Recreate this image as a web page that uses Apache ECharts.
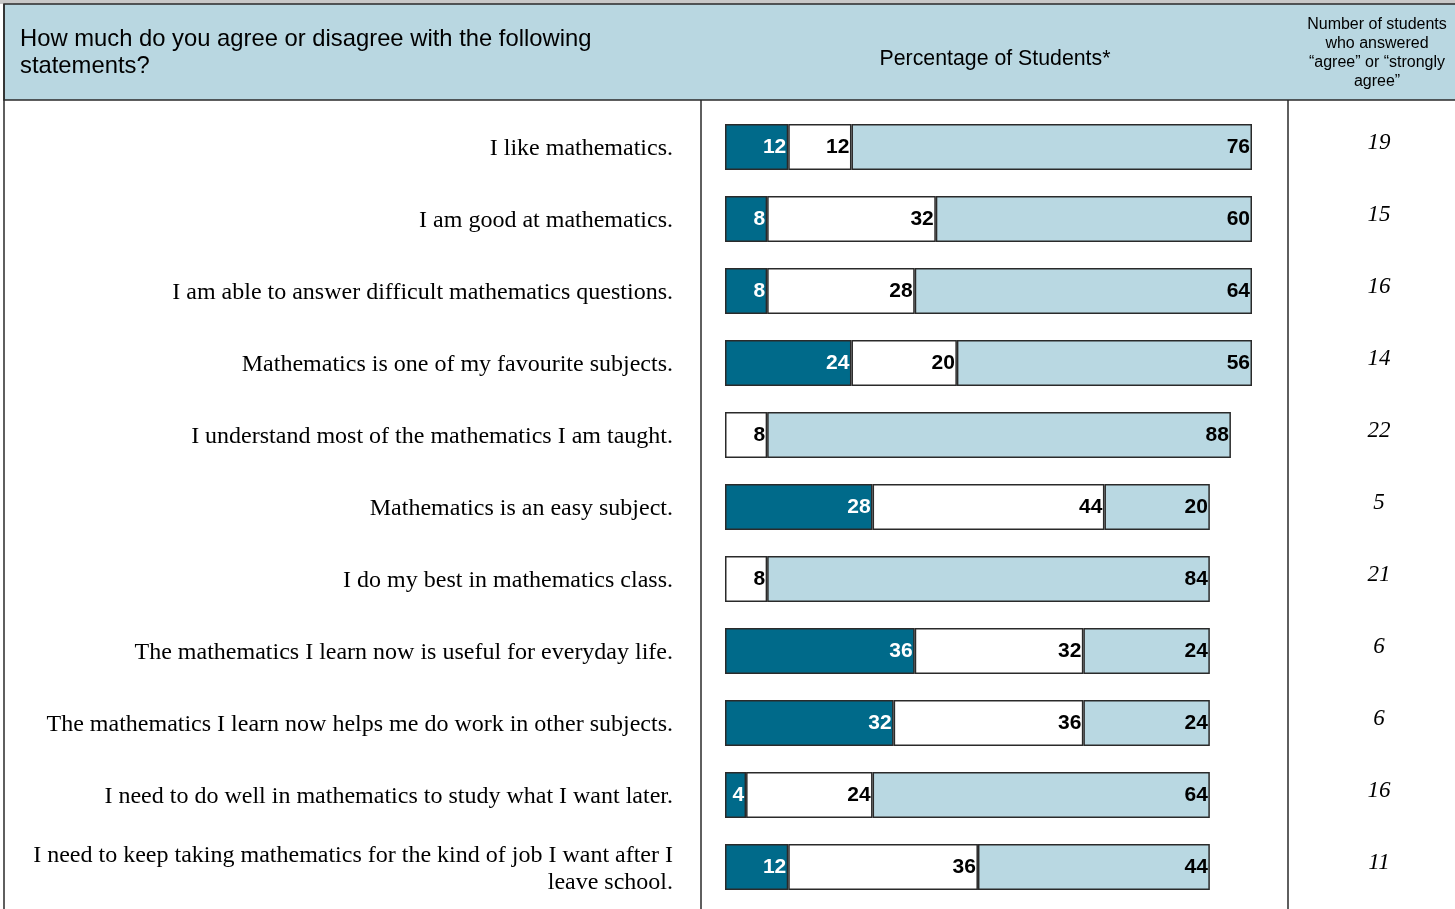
<!DOCTYPE html>
<html><head><meta charset="utf-8">
<script src="https://cdn.jsdelivr.net/npm/echarts@6/dist/echarts.min.js"></script>
<style>html,body{margin:0;padding:0;background:#fff}#c{width:1455px;height:909px}</style>
</head><body><div id="c"></div>
<script>
const statements = [
  "I like mathematics.",
  "I am good at mathematics.",
  "I am able to answer difficult mathematics questions.",
  "Mathematics is one of my favourite subjects.",
  "I understand most of the mathematics I am taught.",
  "Mathematics is an easy subject.",
  "I do my best in mathematics class.",
  "The mathematics I learn now is useful for everyday life.",
  "The mathematics I learn now helps me do work in other subjects.",
  "I need to do well in mathematics to study what I want later.",
  "I need to keep taking mathematics for the kind of job I want after I\nleave school."
];
const disagree = [12, 8, 8, 24, 0, 28, 0, 36, 32, 4, 12];
const neutral  = [12, 32, 28, 20, 8, 44, 8, 32, 36, 24, 36];
const agree    = [76, 60, 64, 56, 88, 20, 84, 24, 24, 64, 44];
const agreeCount = [19, 15, 16, 14, 22, 5, 21, 6, 6, 16, 11];

const headerLeft = "How much do you agree or disagree with the following\nstatements?";
const headerMid = "Percentage of Students*";
const headerRight = "Number of students\nwho answered\n\u201Cagree\u201D or \u201Cstrongly\nagree\u201D";

const chart = echarts.init(document.getElementById('c'), null, {renderer:'canvas'});
const border = '#2a2a2a';
function seg(name, data, color, labelColor) {
  return {
    name, type: 'bar', stack: 'all', data: data.map(v => v === 0 ? '-' : v),
    barWidth: 46,
    itemStyle: { color, borderColor: border, borderWidth: 1.5 },
    label: { show: true, position: 'insideRight', distance: 2, color: labelColor,
      fontFamily: 'Liberation Sans, Arial, sans-serif', fontWeight: 'bold', fontSize: 21,
      formatter: p => (p.value === 0 || p.value === '-') ? '' : String(p.value) },
    emphasis: { disabled: true }, silent: true
  };
}
const serif = 'Liberation Serif, Times New Roman, serif';
const option = {
  animation: false,
  grid: { left: 725, width: 527, top: 111, height: 792 },
  xAxis: { type: 'value', min: 0, max: 100, show: false },
  yAxis: [
    { type: 'category', data: statements, inverse: true,
      axisLine: {show:false}, axisTick: {show:false},
      axisLabel: { margin: 52, align: 'right',
        formatter: v => v.split('\n').map(l => '{s|' + l + '}').join('\n'),
        rich: { s: { color: '#000', fontSize: 24, lineHeight: 27, padding: [4,0,0,0], fontFamily: serif } } } },
    { type: 'category', data: agreeCount.map(String), inverse: true, position: 'right',
      axisLine: {show:false}, axisTick: {show:false},
      axisLabel: { margin: 127, align: 'center',
        formatter: v => '{n|' + v + '}',
        rich: { n: { color: '#000', fontSize: 23, fontStyle: 'italic', padding: [0,0,9,0], fontFamily: serif } } } }
  ],
  series: [
    seg('Disagree', disagree, '#006a8a', '#fff'),
    seg('Neutral', neutral, '#ffffff', '#000'),
    seg('Agree', agree, '#b9d8e2', '#000')
  ],
  graphic: [
    { type: 'rect', shape: {x:0, y:0, width:1455, height:4}, style: {fill:'#c8c8c8'}, z: 1 },
    { type: 'rect', shape: {x:4, y:4, width:1455, height:96}, style: {fill:'#b9d7e1', stroke: border, lineWidth: 1.5}, z: 1 },
    { type: 'line', shape: {x1:4, y1:4, x2:4, y2:909}, style: {stroke: border, lineWidth: 1.5}, z: 2 },
    { type: 'line', shape: {x1:701, y1:100, x2:701, y2:909}, style: {stroke: border, lineWidth: 1.5}, z: 2 },
    { type: 'line', shape: {x1:1288, y1:100, x2:1288, y2:909}, style: {stroke: border, lineWidth: 1.5}, z: 2 },
    { type: 'text', x: 20, y: 53, style: { text: headerLeft, fill:'#000', fontSize: 23.8, lineHeight: 27,
        fontFamily: 'Liberation Sans, Arial, sans-serif', verticalAlign: 'middle', align: 'left' }, z: 3 },
    { type: 'text', x: 995, y: 59, style: { text: headerMid, fill:'#000', fontSize: 21.3,
        fontFamily: 'Liberation Sans, Arial, sans-serif', verticalAlign: 'middle', align: 'center' }, z: 3 },
    { type: 'text', x: 1377, y: 53, style: { text: headerRight, fill:'#000', fontSize: 16, lineHeight: 19,
        fontFamily: 'Liberation Sans, Arial, sans-serif', verticalAlign: 'middle', align: 'center' }, z: 3 }
  ]
};
chart.setOption(option);
</script></body></html>
